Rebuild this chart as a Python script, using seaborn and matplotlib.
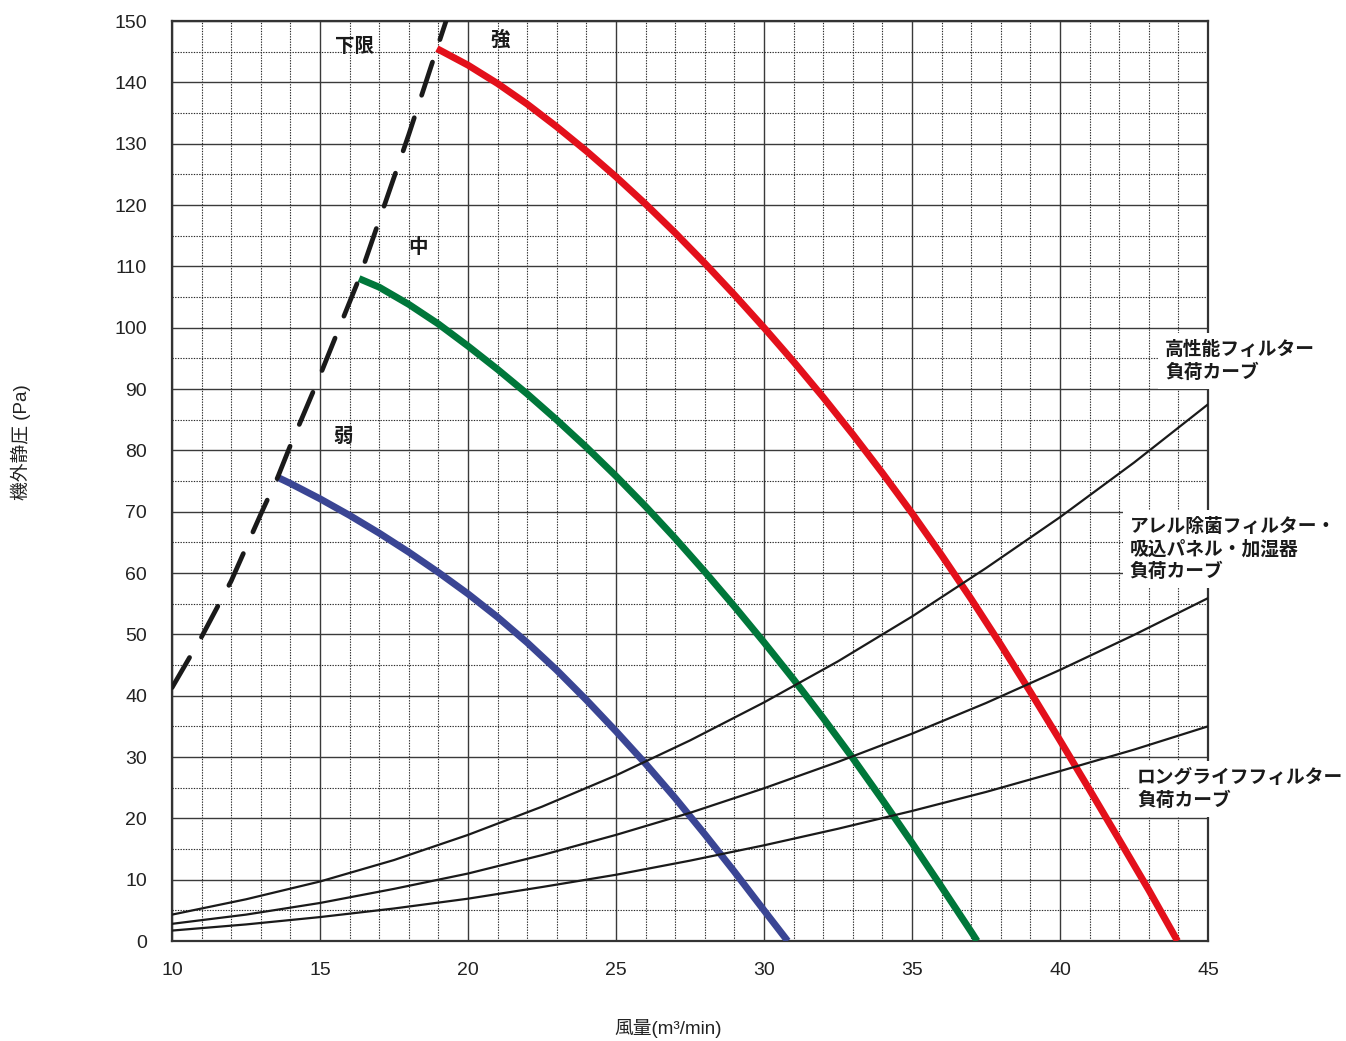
import matplotlib
matplotlib.use("Agg")
import matplotlib.pyplot as plt
from matplotlib.ticker import MultipleLocator
import seaborn as sns

# ---------------- data ----------------
# lower limit (下限) dashed line
limit_x = [10, 11, 12, 13, 13.57, 14, 15, 16.32, 17, 18, 18.95, 19.3]
limit_y = [41.3, 49.6, 58.7, 69.6, 75.6, 80.8, 92.2, 108.0, 117.5, 131.5, 145.5, 150.6]

# 弱 (low) fan curve
low_x = [13.57, 14, 15, 16, 17, 18, 19, 20, 21, 22, 23, 24, 25, 26, 27, 28, 29, 30, 30.8]
low_y = [75.6, 74.6, 72.1, 69.4, 66.5, 63.4, 60.1, 56.6, 52.8, 48.65, 44.15, 39.3, 34.2,
         28.9, 23.3, 17.4, 11.3, 5.0, 0.0]

# 中 (medium) fan curve
mid_x = [16.32, 17, 18, 19, 20, 21, 22, 23, 24, 25, 26, 27, 28, 29, 30, 31, 32, 33, 34,
         35, 36, 37, 37.2]
mid_y = [108.0, 106.6, 103.8, 100.6, 97.0, 93.2, 89.2, 84.95, 80.5, 75.8, 70.85, 65.65,
         60.2, 54.55, 48.7, 42.65, 36.35, 29.8, 23.0, 16.0, 8.8, 1.5, 0.0]

# 強 (high) fan curve
high_x = [18.95, 20, 21, 22, 23, 24, 25, 26, 27, 28, 29, 30, 31, 32, 33, 34, 35, 36, 37,
          38, 39, 40, 41, 42, 43, 43.97]
high_y = [145.5, 142.8, 139.8, 136.45, 132.75, 128.8, 124.6, 120.15, 115.45, 110.5, 105.35,
          100.0, 94.45, 88.65, 82.6, 76.3, 69.75, 62.9, 55.75, 48.3, 40.6, 32.7, 24.65,
          16.5, 8.3, 0.0]

# filter load curves
load_x = [10, 12.5, 15, 17.5, 20, 22.5, 25, 27.5, 30, 32.5, 35, 37.5, 40, 42.5, 45]
hepa_y = [4.3, 6.8, 9.7, 13.2, 17.3, 21.9, 27.0, 32.7, 38.9, 45.6, 52.9, 60.8, 69.1, 78.0, 87.5]
allergen_y = [2.8, 4.3, 6.2, 8.5, 11.0, 14.0, 17.3, 20.9, 24.9, 29.2, 33.8, 38.8, 44.2, 49.9, 55.9]
longlife_y = [1.7, 2.7, 3.9, 5.3, 6.9, 8.8, 10.8, 13.1, 15.6, 18.3, 21.2, 24.3, 27.7, 31.2, 35.0]

x_ticks = [10, 15, 20, 25, 30, 35, 40, 45]
y_ticks = list(range(0, 151, 10))

x_label = "風量(m³/min)"
y_label = "機外静圧 (Pa)"
curve_labels = ["下限", "強", "中", "弱"]
load_labels = ["高性能フィルター\n負荷カーブ",
               "アレル除菌フィルター・\n吸込パネル・加湿器\n負荷カーブ",
               "ロングライフフィルター\n負荷カーブ"]

# ---------------- style ----------------
sns.set_style("white")
plt.rcParams["font.family"] = ["Liberation Sans", "Noto Sans CJK JP", "DejaVu Sans"]
CJK = ["Noto Sans CJK JP", "DejaVu Sans"]

RED = "#E3101B"
GREEN = "#00773A"
BLUE = "#3A4594"

fig = plt.figure(figsize=(13.46, 10.41), dpi=100)
ax = fig.add_axes([172 / 1346, 1 - 941 / 1041, (1208 - 172) / 1346, (941 - 21) / 1041])

# fan curves
for xs, ys, c in [(low_x, low_y, BLUE), (mid_x, mid_y, GREEN), (high_x, high_y, RED)]:
    sns.lineplot(x=xs, y=ys, color=c, lw=5, ax=ax, estimator=None, sort=False,
                 solid_capstyle="butt", solid_joinstyle="round", zorder=4)

# load curves
for ys in [hepa_y, allergen_y, longlife_y]:
    sns.lineplot(x=load_x, y=ys, color="#1a1a1a", lw=1.6, ax=ax, estimator=None,
                 sort=False, zorder=5)

# lower-limit dashed line
sns.lineplot(x=limit_x, y=limit_y, color="#1a1a1a", lw=3.4, ax=ax, estimator=None,
             sort=False, zorder=6, dashes=False)
ln = ax.lines[-1]
ln.set_dashes((7.4, 5.0))
ln.set_dash_capstyle("round")

# axes / grid
ax.set_xlim(10, 45)
ax.set_ylim(0, 150)
ax.xaxis.set_major_locator(MultipleLocator(5))
ax.xaxis.set_minor_locator(MultipleLocator(1))
ax.yaxis.set_major_locator(MultipleLocator(10))
ax.yaxis.set_minor_locator(MultipleLocator(5))
ax.set_xticks(x_ticks)
ax.set_yticks(y_ticks)
ax.grid(which="major", color="#3a3a3a", lw=1.0, ls="-", zorder=1)
ax.grid(which="minor", color="#2a2a2a", lw=0.8, ls=(0, (1.2, 1.2)), zorder=1)
ax.set_axisbelow(True)
ax.tick_params(which="both", length=0)
ax.tick_params(axis="y", pad=18, labelsize=14, labelcolor="#222222")
ax.tick_params(axis="x", pad=15, labelsize=14, labelcolor="#222222")
for s in ax.spines.values():
    s.set_visible(True)
    s.set_color("#333333")
    s.set_linewidth(1.6)
ax.set_xlabel("")
ax.set_ylabel("")

fig.text(668 / 1346, 1 - 1028 / 1041, x_label, ha="center", va="center",
         fontsize=13.5, color="#222222")
fig.text(21 / 1346, 1 - 442 / 1041, y_label, ha="center", va="center",
         rotation=90, fontsize=13.5, color="#222222")

# curve labels
for txt, (tx, ty) in zip(curve_labels, [(16.18, 145.8), (21.08, 146.9), (18.31, 113.0), (15.78, 82.3)]):
    ax.text(tx, ty, txt, ha="center", va="center", fontsize=14, fontweight="bold",
            family=CJK, color="#1a1a1a", zorder=8)

# load curve labels with white boxes
for txt, (tx, ty) in zip(load_labels, [(43.55, 94.6), (42.36, 63.9), (42.60, 24.8)]):
    ax.text(tx, ty, txt, ha="left", va="center", fontsize=13.5, fontweight="bold",
            family=CJK, color="#1a1a1a", linespacing=1.25, zorder=10, clip_on=False,
            bbox=dict(facecolor="white", edgecolor="none", pad=5))

fig.savefig("out.png", dpi=100)
